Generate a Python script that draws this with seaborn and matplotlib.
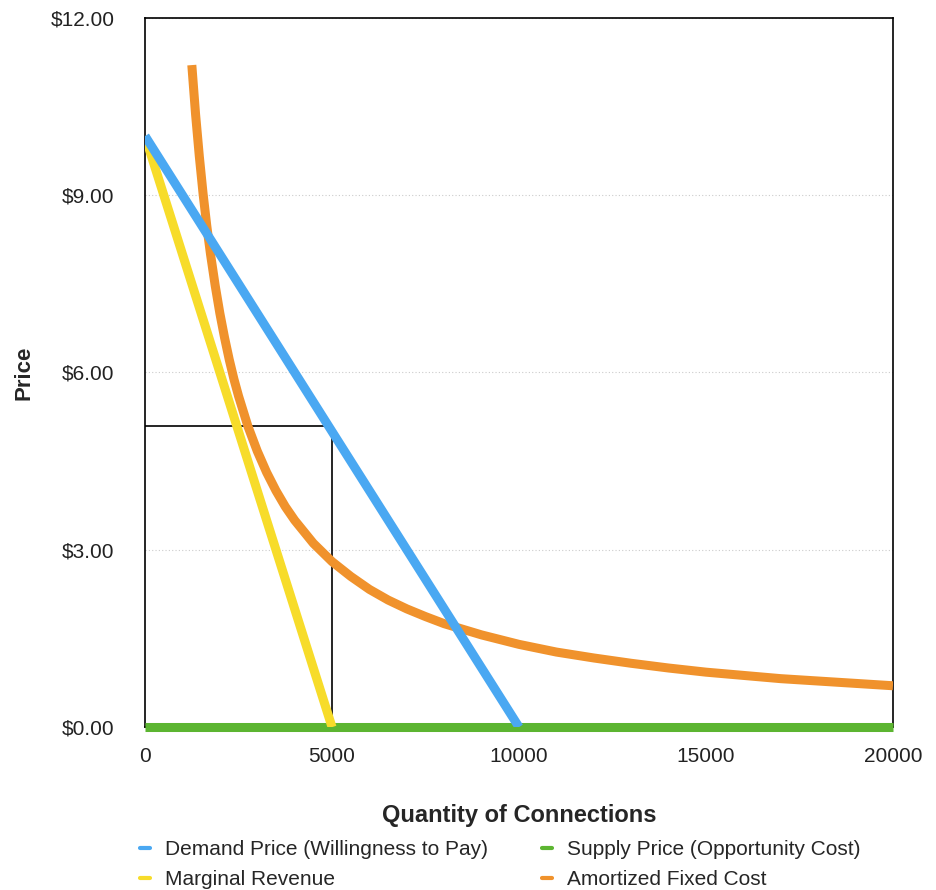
import matplotlib
matplotlib.use("Agg")
import pandas as pd
import seaborn as sns
import matplotlib.pyplot as plt
from matplotlib.lines import Line2D
from matplotlib.ticker import FuncFormatter

# 資料
demand_q = [0, 10000]
demand_p = [10.0, 0.0]
mr_q = [0, 5000]
mr_p = [10.0, 0.0]
supply_q = [0, 20000]
supply_p = [0.0, 0.0]
fixed_q = [1250, 1350, 1450, 1550, 1650, 1750, 1875, 2000, 2125, 2250, 2375, 2500,
           2750, 3000, 3250, 3500, 3750, 4000, 4500, 5000, 5500, 6000, 6500, 7000,
           7500, 8000, 9000, 10000, 11000, 12000, 13000, 14000, 15000, 16000,
           17000, 18000, 19000, 20000]
fixed_p = [11.2, 10.37, 9.66, 9.03, 8.48, 8.0, 7.47, 7.0, 6.59, 6.22, 5.89, 5.6,
           5.09, 4.67, 4.31, 4.0, 3.73, 3.5, 3.11, 2.8, 2.55, 2.33, 2.15, 2.0,
           1.87, 1.75, 1.56, 1.4, 1.27, 1.17, 1.08, 1.0, 0.93, 0.875,
           0.82, 0.78, 0.74, 0.7]
box_q = [0, 5000, 5000]
box_p = [5.1, 5.1, 0.0]

sns.set_style("white")
plt.rcParams["font.family"] = ["Liberation Sans", "DejaVu Sans"]

blue = "#4aa8f2"
yellow = "#f7dc2a"
green = "#5cb531"
orange = "#f0922c"

fig = plt.figure(figsize=(9.36, 8.9), dpi=100)
ax = fig.add_axes([0.155, 0.183, 0.799, 0.797])

lw = 6.5
sns.lineplot(x=box_q, y=box_p, ax=ax, color="black", lw=1.2, sort=False,
             estimator=None, zorder=2)
sns.lineplot(x=supply_q, y=supply_p, ax=ax, color=green, lw=lw, zorder=3,
             solid_capstyle="butt").lines[-1].set_clip_on(False)
sns.lineplot(x=mr_q, y=mr_p, ax=ax, color=yellow, lw=lw, zorder=3, solid_capstyle="butt")
sns.lineplot(x=fixed_q, y=fixed_p, ax=ax, color=orange, lw=lw, zorder=3,
             solid_capstyle="butt", solid_joinstyle="round")
sns.lineplot(x=demand_q, y=demand_p, ax=ax, color=blue, lw=lw, zorder=4, solid_capstyle="butt")

ax.set_xlim(0, 20000)
ax.set_ylim(0, 12)
ax.set_xticks([0, 5000, 10000, 15000, 20000])
ax.set_yticks([0, 3, 6, 9, 12])
ax.yaxis.set_major_formatter(FuncFormatter(lambda v, p: f"${v:.2f}"))
ax.tick_params(axis="both", length=0, labelsize=15, colors="#222222")
ax.tick_params(axis="y", pad=22)
ax.tick_params(axis="x", pad=14)
ax.grid(axis="y", color="#cccccc", linestyle=(0, (1, 2)), lw=0.8)
for s in ax.spines.values():
    s.set_visible(True)
    s.set_color("black")
    s.set_linewidth(1.2)

ax.set_xlabel("Quantity of Connections", fontsize=17, fontweight="bold", labelpad=28)
ax.set_ylabel("Price", fontsize=16, fontweight="bold")
ax.yaxis.set_label_coords(-0.148, 0.5)

handles = [
    Line2D([], [], color=blue, lw=3),
    Line2D([], [], color=yellow, lw=3),
    Line2D([], [], color=green, lw=3),
    Line2D([], [], color=orange, lw=3),
]
labels = ["Demand Price (Willingness to Pay)", "Marginal Revenue",
          "Supply Price (Opportunity Cost)", "Amortized Fixed Cost"]
fig.legend(handles, labels, ncol=2, loc="upper left", bbox_to_anchor=(0.141, 0.065),
           frameon=False, fontsize=15, handlelength=0.45, handletextpad=0.75,
           columnspacing=2.6, labelspacing=0.5, borderaxespad=0)

fig.savefig("out.png", dpi=100)
